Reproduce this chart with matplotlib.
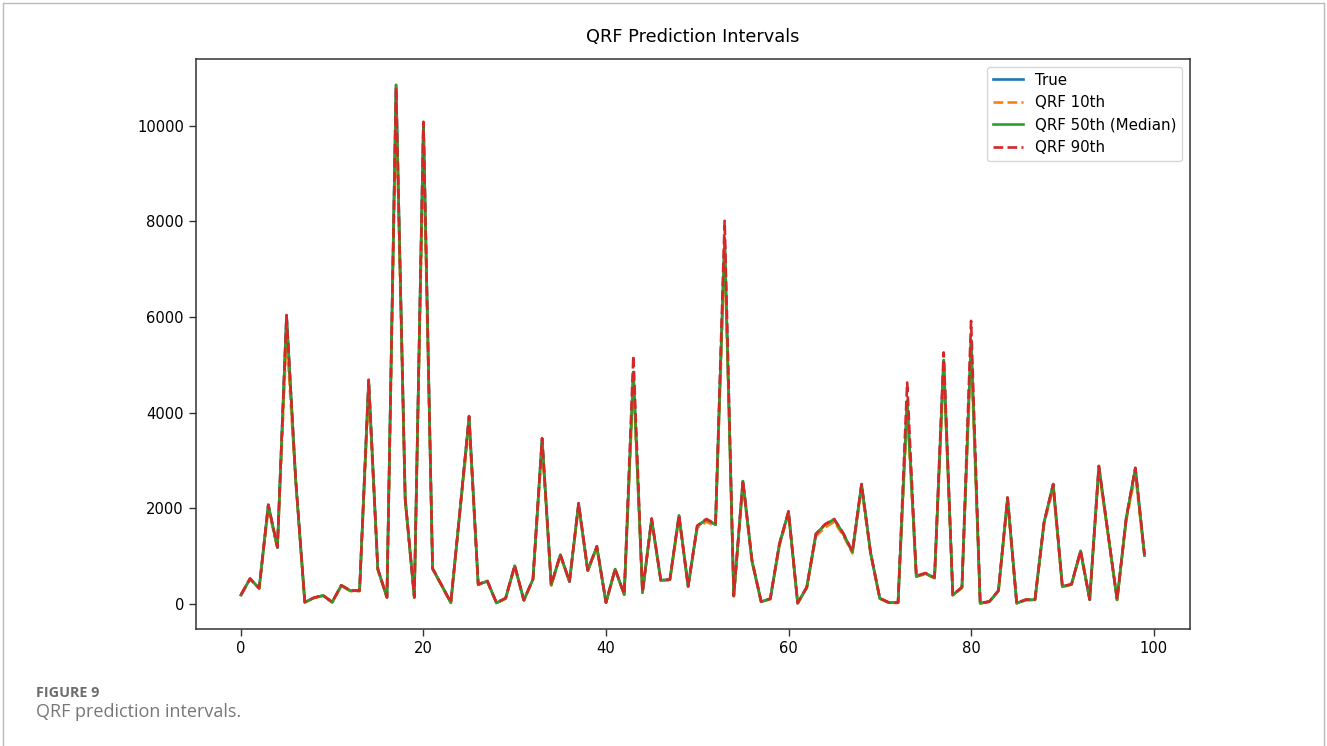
import matplotlib.pyplot as plt
from matplotlib.lines import Line2D

# values (index 0..99)
y_true = [190, 530, 330, 2070, 1180, 6030, 2600, 40, 130, 180,
          40, 390, 280, 280, 4670, 730, 140, 10850, 2200, 140,
          10050, 740, 390, 30, 1950, 3910, 410, 480, 25, 120,
          800, 80, 520, 3450, 400, 1030, 470, 2100, 700, 1200,
          30, 730, 200, 4850, 240, 1780, 500, 510, 1850, 370,
          1630, 1770, 1660, 7650, 170, 2570, 900, 50, 110, 1250,
          1930, 20, 350, 1460, 1660, 1770, 1470, 1090, 2500, 1060,
          120, 30, 30, 4250, 580, 640, 550, 5100, 190, 350,
          5520, 20, 50, 280, 2220, 20, 90, 90, 1710, 2500,
          370, 410, 1110, 90, 2880, 1480, 90, 1790, 2840, 1020]

y_q10 = [180, 520, 320, 2000, 1170, 5600, 2550, 35, 125, 175,
         35, 380, 270, 270, 4450, 710, 135, 10400, 2150, 135,
         9600, 730, 380, 25, 1920, 3750, 400, 470, 20, 115,
         780, 75, 510, 3300, 390, 1010, 460, 2050, 690, 1180,
         25, 720, 195, 4650, 235, 1750, 490, 500, 1800, 365,
         1600, 1720, 1630, 7350, 165, 2500, 880, 45, 105, 1220,
         1880, 15, 340, 1420, 1600, 1720, 1430, 1060, 2420, 1040,
         115, 25, 25, 4050, 570, 630, 540, 4900, 185, 340,
         5250, 15, 45, 270, 2150, 15, 85, 85, 1680, 2420,
         360, 400, 1080, 85, 2800, 1450, 85, 1750, 2700, 1000]

y_q50 = [190, 530, 330, 2070, 1180, 6030, 2600, 40, 130, 180,
         40, 390, 280, 280, 4670, 730, 140, 10850, 2200, 140,
         10050, 740, 390, 30, 1950, 3910, 410, 480, 25, 120,
         800, 80, 520, 3450, 400, 1030, 470, 2100, 700, 1200,
         30, 730, 200, 4850, 240, 1780, 500, 510, 1850, 370,
         1630, 1770, 1660, 7650, 170, 2570, 900, 50, 110, 1250,
         1930, 20, 350, 1460, 1660, 1770, 1470, 1090, 2500, 1060,
         120, 30, 30, 4250, 580, 640, 550, 5100, 190, 350,
         5520, 20, 50, 280, 2220, 20, 90, 90, 1710, 2500,
         370, 410, 1110, 90, 2880, 1480, 90, 1790, 2840, 1020]

y_q90 = [195, 535, 335, 2080, 1190, 6040, 2620, 45, 135, 185,
         45, 395, 285, 285, 4690, 740, 145, 10800, 2210, 145,
         10080, 750, 395, 35, 1960, 3930, 415, 485, 30, 125,
         810, 85, 525, 3470, 405, 1040, 475, 2110, 710, 1210,
         35, 740, 205, 5190, 245, 1790, 505, 515, 1860, 375,
         1640, 1780, 1670, 8010, 175, 2590, 910, 55, 115, 1260,
         1940, 25, 355, 1470, 1670, 1780, 1480, 1100, 2510, 1070,
         125, 35, 35, 4630, 590, 650, 560, 5260, 195, 355,
         5920, 25, 55, 285, 2230, 25, 95, 95, 1720, 2510,
         375, 415, 1120, 95, 2890, 1490, 95, 1800, 2850, 1030]

x = list(range(len(y_true)))

fig = plt.figure(figsize=(13.27, 7.46), dpi=100)
ax = fig.add_axes([0.1475, 0.1564, 0.749, 0.7645])

ax.plot(x, y_true, color='#1f77b4', lw=1.9, label='True')
ax.plot(x, y_q10, color='#ff7f0e', lw=1.9, ls='--', label='QRF 10th')
ax.plot(x, y_q50, color='#2ca02c', lw=1.9, label='QRF 50th (Median)')
ax.plot(x, y_q90, color='#d62728', lw=1.9, ls='--', label='QRF 90th')

ax.set_title('QRF Prediction Intervals', fontsize=12.8, pad=12)
ax.tick_params(labelsize=10.6, length=5, width=1.0, color='#333333')
for s in ax.spines.values():
    s.set_color('#333333')
    s.set_linewidth(1.1)
ax.legend(loc='upper right', fontsize=10.8)

# caption below the chart
fig.text(36 / 1327, 1 - 697 / 746, 'FIGURE 9', family='Open Sans',
         fontweight='bold', fontsize=10.4, color='#6d6d6d', va='baseline')
fig.text(36 / 1327, 1 - 717 / 746, 'QRF prediction intervals.', family='Open Sans',
         fontsize=13, color='#777777', va='baseline')

# thin page frame
frame_kw = dict(color='#bbbbbb', lw=1.0, transform=fig.transFigure)
fig.add_artist(Line2D([3.5 / 1327, 3.5 / 1327], [0, 1 - 2.5 / 746], **frame_kw))
fig.add_artist(Line2D([3.5 / 1327, 1 - 3.5 / 1327], [1 - 2.5 / 746, 1 - 2.5 / 746], **frame_kw))
fig.add_artist(Line2D([1 - 3.5 / 1327, 1 - 3.5 / 1327], [0, 1 - 2.5 / 746], **frame_kw))

fig.savefig('out.png', dpi=100)
